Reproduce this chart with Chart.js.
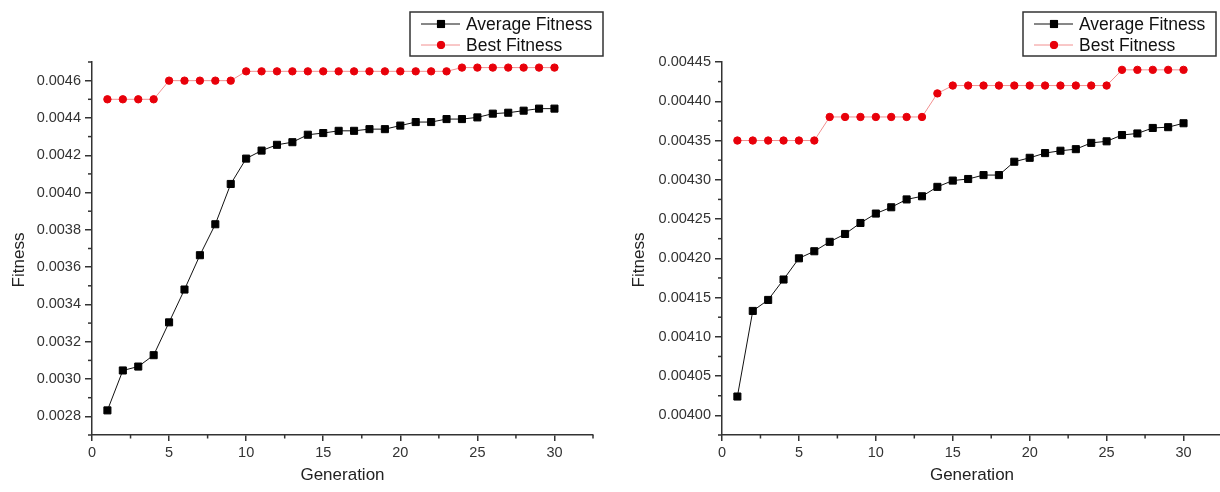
<!DOCTYPE html>
<html><head><meta charset="utf-8">
<script src="https://cdn.jsdelivr.net/npm/chart.js@4.4.1/dist/chart.umd.min.js"></script>
<style>
html,body{margin:0;padding:0;background:#fff;overflow:hidden;width:1220px;height:492px;position:relative;}
#wrapL{position:absolute;left:0;top:0;width:610px;height:492px;}
#wrapR{position:absolute;left:610px;top:0;width:620px;height:492px;}
</style></head><body>
<div id="wrapL"><canvas id="cL" width="610" height="492"></canvas></div>
<div id="wrapR"><canvas id="cR" width="620" height="492"></canvas></div>
<script>
// ---- data ----
const generations = [1,2,3,4,5,6,7,8,9,10,11,12,13,14,15,16,17,18,19,20,21,22,23,24,25,26,27,28,29,30];
const seriesNames = ['Average Fitness', 'Best Fitness'];
const avgLeft = [0.002832,0.003046,0.003067,0.003128,0.003304,0.003480,0.003664,0.003830,0.004046,0.004182,
                 0.004225,0.004256,0.004270,0.004310,0.004319,0.004331,0.004331,0.004340,0.004340,0.004359,
                 0.004378,0.004378,0.004394,0.004394,0.004403,0.004423,0.004428,0.004439,0.004450,0.004450];
const bestLeft = [0.00450,0.00450,0.00450,0.00450,0.00460,0.00460,0.00460,0.00460,0.00460,0.00465,
                  0.00465,0.00465,0.00465,0.00465,0.00465,0.00465,0.00465,0.00465,0.00465,0.00465,
                  0.00465,0.00465,0.00465,0.00467,0.00467,0.00467,0.00467,0.00467,0.00467,0.00467];
const avgRight = [0.004024,0.004133,0.004147,0.004173,0.004200,0.004209,0.004221,0.004231,0.004245,0.004257,
                  0.004265,0.004275,0.004279,0.004291,0.004299,0.004301,0.004306,0.004306,0.004323,0.004328,
                  0.004334,0.004337,0.004339,0.004347,0.004349,0.004357,0.004359,0.004366,0.004367,0.004372];
const bestRight = [0.00435,0.00435,0.00435,0.00435,0.00435,0.00435,0.00438,0.00438,0.00438,0.00438,
                   0.00438,0.00438,0.00438,0.00441,0.00442,0.00442,0.00442,0.00442,0.00442,0.00442,
                   0.00442,0.00442,0.00442,0.00442,0.00442,0.00444,0.00444,0.00444,0.00444,0.00444];
const xTicks = [0,5,10,15,20,25,30];
const yTicksLeft = [0.0028,0.0030,0.0032,0.0034,0.0036,0.0038,0.0040,0.0042,0.0044,0.0046];
const yTicksRight = [0.00400,0.00405,0.00410,0.00415,0.00420,0.00425,0.00430,0.00435,0.00440,0.00445];
const xTitle = 'Generation';
const yTitle = 'Fitness';

// ---- styles ----
const FONT = '"Liberation Sans", Arial, Helvetica, sans-serif';
const AXIS = '#333';
const avgStyle = {color:'#000', line:'#111', pointStyle:'rect', radius:5, lw:1};
const bestStyle = {color:'#e8000a', line:'#f29090', pointStyle:'circle', radius:3.7, lw:1};

function minors(ticks, lo, hi){
  const out=[]; const step = ticks[1]-ticks[0];
  for(let i=-1;i<ticks.length;i++){
    const m = ticks[0] + (i+0.5)*step;
    if(m>=lo-1e-12 && m<=hi+1e-12) out.push(m);
  }
  return out;
}

const decorPlugin = {
  id:'decor',
  afterDraw(chart, args, o){
    const ctx = chart.ctx, xs = chart.scales.x, ys = chart.scales.y;
    ctx.save();
    ctx.strokeStyle = AXIS; ctx.lineWidth = 1.5;
    // minor ticks
    for(const v of o.xMinor){ const px = xs.getPixelForValue(v);
      ctx.beginPath(); ctx.moveTo(px, xs.top); ctx.lineTo(px, xs.top+3.5); ctx.stroke(); }
    for(const v of o.yMinor){ const py = ys.getPixelForValue(v);
      ctx.beginPath(); ctx.moveTo(ys.right, py); ctx.lineTo(ys.right-4, py); ctx.stroke(); }
    // y title
    ctx.fillStyle = '#222';
    ctx.font = '17px ' + FONT;
    ctx.translate(o.yTitleX, o.yTitleY); ctx.rotate(-Math.PI/2);
    ctx.textAlign='center'; ctx.textBaseline='middle';
    ctx.fillText(yTitle, 0, 0);
    ctx.restore();
    // legend
    const L = o.legend;
    ctx.save();
    ctx.strokeStyle = '#333'; ctx.lineWidth = 1.5;
    ctx.strokeRect(L.x, L.y, L.w, L.h);
    chart.data.datasets.forEach((ds, i) => {
      const cy = L.y + 12 + i*21;
      ctx.strokeStyle = ds.borderColor; ctx.lineWidth = 1;
      ctx.beginPath(); ctx.moveTo(L.x+11, cy); ctx.lineTo(L.x+50, cy); ctx.stroke();
      Chart.helpers.drawPoint(ctx, {pointStyle: ds.pointStyle, radius: ds.pointRadius, borderWidth:1},
                              L.x+31, cy);
      ctx.fillStyle = ds.pointBackgroundColor; ctx.strokeStyle = ds.pointBorderColor;
      ctx.beginPath();
      if(ds.pointStyle==='rect'){ const s = ds.pointRadius*Math.SQRT1_2; ctx.rect(L.x+31-s, cy-s, 2*s, 2*s); }
      else { ctx.arc(L.x+31, cy, ds.pointRadius, 0, Math.PI*2); }
      ctx.fill(); ctx.stroke();
      ctx.fillStyle = '#111'; ctx.font = '17.5px ' + FONT;
      ctx.textAlign='left'; ctx.textBaseline='middle';
      ctx.fillText(ds.label, L.x+56, cy+1);
    });
    ctx.restore();
  }
};

function makeDataset(label, values, st){
  return {
    label, data: generations.map((g,i)=>({x:g, y:values[i]})),
    borderColor: st.line, borderWidth: st.lw,
    pointStyle: st.pointStyle, pointRadius: st.radius,
    pointBackgroundColor: st.color, pointBorderColor: st.color, pointBorderWidth: 1,
    tension: 0, fill:false
  };
}

function makeChart(id, avg, best, yTicks, yMin, yMax, decimals, yWidth, padRight, decor){
  return new Chart(document.getElementById(id), {
    type:'line',
    data:{ datasets:[ makeDataset(seriesNames[0], avg, avgStyle), makeDataset(seriesNames[1], best, bestStyle) ] },
    plugins:[decorPlugin],
    options:{
      responsive:false, animation:false, devicePixelRatio:1,
      layout:{padding:{left:0, top:62, right:padRight, bottom:0}},
      plugins:{ legend:{display:false}, tooltip:{enabled:false}, decor },
      scales:{
        x:{
          type:'linear', min:0, max:32.5,
          afterBuildTicks: s => { s.ticks = xTicks.map(v=>({value:v})); },
          afterFit: s => { s.height = 57; },
          grid:{drawOnChartArea:false, drawTicks:true, tickLength:6, color:AXIS, lineWidth:1.5},
          border:{display:true, color:AXIS, width:1.5},
          ticks:{color:'#333', font:{family:FONT, size:14.5}, padding:3, maxRotation:0, autoSkip:false,
                 callback: v => String(v)},
          title:{display:true, text:xTitle, color:'#222', font:{family:FONT, size:17}, padding:{top:0, bottom:6}}
        },
        y:{
          type:'linear', min:yMin, max:yMax,
          afterBuildTicks: s => { s.ticks = yTicks.map(v=>({value:v})); },
          afterFit: s => { s.width = yWidth; },
          grid:{drawOnChartArea:false, drawTicks:true, tickLength:7, color:AXIS, lineWidth:1.5},
          border:{display:true, color:AXIS, width:1.5},
          ticks:{color:'#333', font:{family:FONT, size:14.5}, padding:4, autoSkip:false,
                 callback: v => Number(v).toFixed(decimals)},
          title:{display:false}
        }
      }
    }
  });
}

makeChart('cL', avgLeft, bestLeft, yTicksLeft, 0.0027, 0.0047, 4, 92, 17, {
  xMinor: minors(xTicks, 0, 32.5), yMinor: minors(yTicksLeft, 0.0027, 0.0047),
  yTitleX: 19, yTitleY: 260,
  legend:{x:410, y:12, w:193, h:44}
});
makeChart('cR', avgRight, bestRight, yTicksRight, 0.003975, 0.00445, 5, 112, 8, {
  xMinor: minors(xTicks, 0, 32.5), yMinor: minors(yTicksRight, 0.003975, 0.00445),
  yTitleX: 29, yTitleY: 260,
  legend:{x:413, y:12, w:193, h:44}
});
</script>
</body></html>
